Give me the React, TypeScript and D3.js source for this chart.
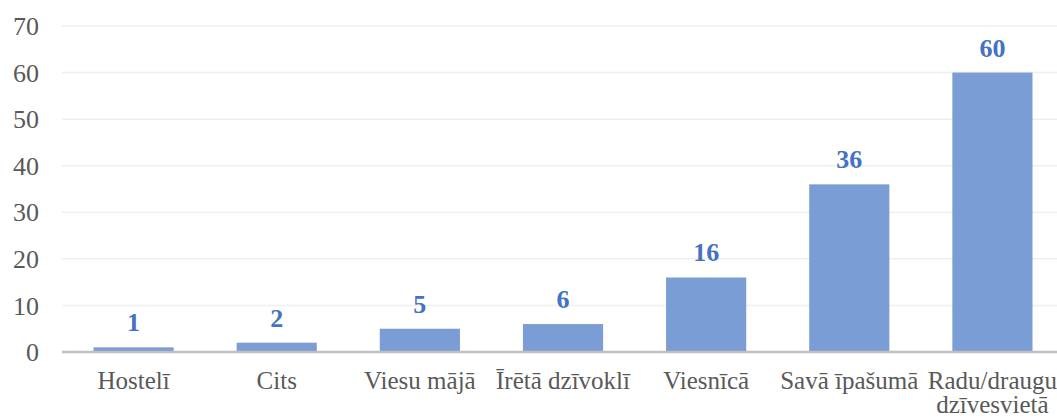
import React from "react";
import * as d3 from "d3";

const categories: string[][] = [
  ["Hostelī"],
  ["Cits"],
  ["Viesu mājā"],
  ["Īrētā dzīvoklī"],
  ["Viesnīcā"],
  ["Savā īpašumā"],
  ["Radu/draugu", "dzīvesvietā"],
];
const values: number[] = [1, 2, 5, 6, 16, 36, 60];
const yTicks: number[] = [0, 10, 20, 30, 40, 50, 60, 70];

const W = 1057;
const H = 419;
const left = 62;
const right = 1064;
const top = 26;
const bottom = 352;

const serif = "Liberation Serif";

export default function App() {
  const x = d3
    .scaleBand<number>()
    .domain(values.map((_, i) => i))
    .range([left, right])
    .paddingInner(0.44)
    .paddingOuter(0.22);
  const y = d3.scaleLinear().domain([0, 70]).range([bottom, top]);

  return (
    <svg
      width={W}
      height={H}
      style={{ position: "absolute", left: 0, top: 0, background: "#fff" }}
    >
      {yTicks.map((t) =>
        t === 0 ? null : (
          <line
            key={"g" + t}
            x1={left}
            x2={W}
            y1={y(t)}
            y2={y(t)}
            stroke="#efefef"
            strokeWidth={1.5}
          />
        )
      )}
      {yTicks.map((t) => (
        <text
          key={"t" + t}
          x={39}
          y={y(t)}
          dy="0.35em"
          textAnchor="end"
          style={{ fontFamily: serif, fontSize: 26 }}
          fill="#595959"
        >
          {t}
        </text>
      ))}
      {values.map((v, i) => (
        <rect
          key={"b" + i}
          x={x(i)}
          y={y(v)}
          width={x.bandwidth()}
          height={bottom - y(v)}
          fill="#7b9dd5"
        />
      ))}
      <line
        x1={left}
        x2={W}
        y1={bottom}
        y2={bottom}
        stroke="#bfbfbf"
        strokeWidth={2.5}
      />
      {values.map((v, i) => (
        <text
          key={"l" + i}
          x={(x(i) as number) + x.bandwidth() / 2}
          y={y(v) - 16}
          textAnchor="middle"
          style={{ fontFamily: serif, fontSize: 26, fontWeight: "bold" }}
          fill="#4472c4"
        >
          {v}
        </text>
      ))}
      {categories.map((lines, i) => (
        <text
          key={"c" + i}
          x={(x(i) as number) + x.bandwidth() / 2}
          y={389}
          textAnchor="middle"
          style={{ fontFamily: serif, fontSize: 25 }}
          fill="#595959"
        >
          {lines.map((ln, j) => (
            <tspan
              key={j}
              x={(x(i) as number) + x.bandwidth() / 2}
              dy={j === 0 ? 0 : 24}
            >
              {ln}
            </tspan>
          ))}
        </text>
      ))}
    </svg>
  );
}
